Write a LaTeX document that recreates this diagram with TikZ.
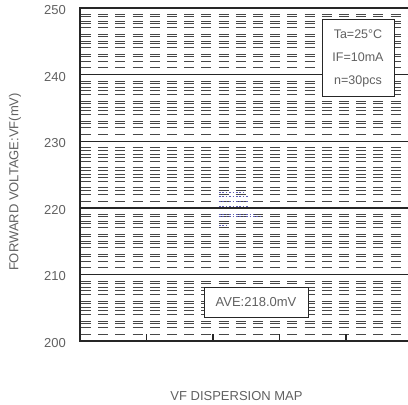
\documentclass[tikz,border=0pt]{standalone}
\usepackage{fontspec}
\setmainfont{Liberation Sans}
\usetikzlibrary{calc}
\tikzstyle{every node}=[font=\fontsize{13}{15}\selectfont, text=black!62]
\definecolor{markblue}{RGB}{95,95,180}
\tikzset{
  dashrow/.style={line width=1pt, black!72, dash pattern=on 10pt off 7.2pt},
  gridrow/.style={line width=1.4pt, black!85},
  datamark/.style={line width=1pt, markblue, dash pattern=on 1.6pt off 1.8pt},
  infobox/.style={draw=black!85, line width=1pt, fill=white}
}

\begin{document}
\begin{tikzpicture}[x=1pt,y=-1pt]
  \useasboundingbox (0,0) rectangle (408,405);

                % plot frame: 200 mV at y=341, 250 mV at y=8
                \coordinate (LB) at (80, 341);
                \coordinate (LT) at (80, 8);
                \coordinate (RB) at (412, 341);
                \coordinate (RT) at (412, 8);

                % minor dashed rows in every 10 mV band
                \foreach \b in {0,...,4}
                  \foreach \m in {1,1.35,2,2.4,3,4,4.35,5,5.4,6,7,7.35,8,9}
                    \draw [dashrow] (81, {8+(\b*10+\m)*6.66}) -- (412, {8+(\b*10+\m)*6.66});

                % major rows and ticks
                \foreach \b in {1,...,4}
                  \draw [gridrow] ($(LT)+(0,\b*66.6)$) -- ($(RT)+(0,\b*66.6)$);
                \foreach \k in {1,...,4}
                  \draw [gridrow] ($(LB)+(\k*66.5,0)$) -- ++(0,-7);
                \draw [gridrow] (LT) rectangle (RB);

                % tick labels
                \foreach \v [count=\i from 0] in {250,240,230,220,210,200}
                  \node (y\v) at (55, {10+\i*66.6}) {\v};

                % measured values
                \draw [datamark] (219, 192.3) -- (243, 192.3);
                \draw [datamark] (219, 196.7) -- (249, 196.7);
                \draw [datamark] (219, 201.7) -- (249, 201.7);
                \draw [datamark] (219, 206) -- (248, 206);
                \draw [datamark] (219, 214) -- (254, 214);
                \draw [datamark] (219, 216.7) -- (262, 216.7);
                \draw [datamark] (219, 225) -- (228, 225);

                % conditions and average
                \node [infobox, minimum width=72pt, minimum height=77pt, align=center,
                       font=\fontsize{12.5}{23.3}\selectfont] (cond) at (358, 58.3)
                      {Ta=25\textdegree C\\IF=10mA\\n=30pcs};
                \node [infobox, minimum width=104pt, minimum height=30pt] (ave) at (256, 302)
                      {AVE:218.0mV};

                % axis titles
                \node [rotate=90] (ylab) at (15, 182) {FORWARD VOLTAGE:VF(mV)};
                \node (xlab) at (236.5, 396) {VF DISPERSION MAP};

\end{tikzpicture}
\end{document}
